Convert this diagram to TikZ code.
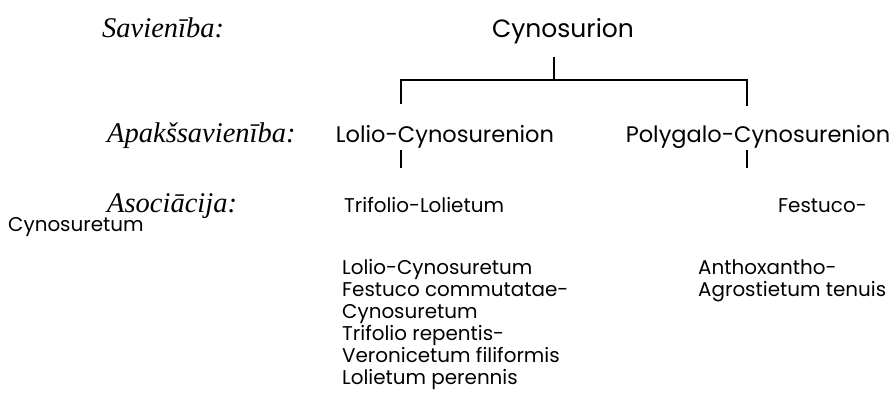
\documentclass[tikz,border=0pt]{standalone}
\usepackage{fontspec}
\setmainfont{Poppins}
\newfontfamily\rankfont{Liberation Serif}
\usepackage{tikz}
\usetikzlibrary{positioning}

\begin{document}
\begin{tikzpicture}[
    x=1pt, y=-1pt,
    every node/.style={inner sep=0pt, text=black},
    rank/.style={anchor=base west, font=\rankfont\itshape\fontsize{28.5}{30}\selectfont},
    alliance/.style={anchor=base, font=\fontsize{25}{28}\selectfont},
    suball/.style={anchor=base, font=\fontsize{22.5}{26}\selectfont},
    assoc/.style={anchor=base west, font=\fontsize{19.9}{22}\selectfont},
    link/.style={line width=1.1pt}
]
\useasboundingbox (0,0) rectangle (893,395);

% rank labels
\node[rank] (savLbl) at (102,38) {Savienība:};
\node[rank] (apakLbl) at (107,143) {Apakšsavienība:};
\node[rank] (asocLbl) at (107,213) {Asociācija:};

% alliance and suballiances
\node[alliance] (cyno) at (563,38) {Cynosurion};
\node[suball] (lolioCyn) at (445,143) {Lolio-Cynosurenion};
\node[suball] (polyCyn) at (758,143) {Polygalo-Cynosurenion};

% tree lines
\coordinate (stem) at (554,57);
\coordinate (fork) at (554,80);
\coordinate (legL) at (401,104);
\coordinate (legR) at (747,106);
\coordinate (tickLa) at (401,150);
\coordinate (tickLb) at (401,168);
\coordinate (tickRa) at (747,150);
\coordinate (tickRb) at (747,168);
\draw[link] (stem) -- (fork);
\draw[link] (legL) |- (fork) -| (legR);
\draw[link] (tickLa) -- (tickLb);
\draw[link] (tickRa) -- (tickRb);

% associations
\node[assoc] (trifLol) at (344,213) {Trifolio-Lolietum};
\node[assoc] (festA) at (778,213) {Festuco-};
\node[assoc] (festB) at (8,232) {Cynosuretum};
\foreach \txt [count=\i] in {Lolio-Cynosuretum, Festuco commutatae-, Cynosuretum,
    Trifolio repentis-, Veronicetum filiformis, Lolietum perennis}
  \node[assoc] (lolList\i) at (342,{274+22*(\i-1)}) {\txt};
\node[assoc] (anthA) at (698,274) {Anthoxantho-};
\node[assoc] (anthB) at (698,296) {Agrostietum tenuis};

\end{tikzpicture}
\end{document}
